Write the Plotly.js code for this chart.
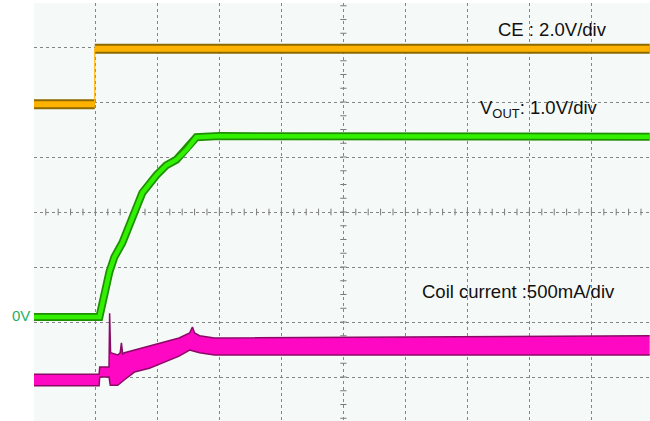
<!DOCTYPE html>
<html>
<head>
<meta charset="utf-8">
<script src="https://cdn.plot.ly/plotly-3.0.1.min.js"></script>
<style>html,body{margin:0;padding:0;background:#fff;}#chart{width:650px;height:421px;}</style>
</head>
<body>
<div id="chart"></div>
<script>
// Time axis in divisions (10 div screen), vertical in divisions (8 div screen, centre = 0)
// CE trace (2.0 V/div)
const ceStepTime = 0.99;
const ceStartTime = 0.0;
const ceEndTime = 9.94;
const ceLowLevel = 1.96;
const ceHighLevel = 2.97;

// VOUT trace (1.0 V/div), 0 V reference at -1.91 div
const voutTime  = [0.0, 1.065, 1.226, 1.306, 1.435, 1.597, 1.758, 1.984, 2.145, 2.306, 2.468, 2.629, 3.0, 9.94];
const voutLevel = [-1.91, -1.91, -1.09, -0.82, -0.56, -0.09, 0.35, 0.67, 0.85, 0.95, 1.13, 1.36, 1.38, 1.37];

// Coil current (500 mA/div) envelope (upper / lower edge of the noisy band)
const coilUpperTime = [0.0, 1.06, 1.07, 1.22, 1.23, 1.245, 1.36, 1.40, 1.42, 1.44, 1.47, 1.63, 1.87, 2.11, 2.35, 2.52, 2.565, 2.60, 2.68, 2.92, 9.94];
const coilUpper     = [-2.95, -2.95, -2.82, -2.82, -1.84, -2.56, -2.60, -2.56, -2.38, -2.58, -2.56, -2.51, -2.44, -2.36, -2.29, -2.20, -2.09, -2.20, -2.25, -2.29, -2.25];
const coilLowerTime = [0.0, 1.06, 1.07, 1.22, 1.24, 1.36, 1.47, 1.63, 1.87, 2.11, 2.35, 2.52, 2.68, 2.92, 9.94];
const coilLower     = [-3.16, -3.16, -3.00, -3.00, -3.15, -3.15, -3.05, -2.91, -2.84, -2.73, -2.62, -2.51, -2.56, -2.60, -2.60];

// Labels (x in divisions; the 0V marker sits left of the screen, given in paper units)
const labelTexts = ['CE : 2.0V/div', 'V<sub>OUT</sub>: 1.0V/div', 'Coil current :500mA/div'];
const labelX = [8.37, 8.15, 7.82];
const labelY = [3.31, 1.87, -1.45];
const zeroLabel = '0V';
const zeroLabelPaperX = -0.021;
const zeroLabelY = -1.89;

const ORANGE = '#ffb300', ORANGE_DK = '#8c6a00';
const GREEN = '#33f000', GREEN_DK = '#1c9000';
const MAG = '#ff08c4', MAG_DK = '#8a0a66';

const traces = [];
function band(x, y, dark, bright, wDark, wBright) {
  traces.push({x: x, y: y, mode: 'lines', line: {color: dark, width: wDark}, hoverinfo: 'skip'});
  traces.push({x: x, y: y, mode: 'lines', line: {color: bright, width: wBright}, hoverinfo: 'skip'});
}
// CE
band([ceStartTime, ceStepTime], [ceLowLevel, ceLowLevel], ORANGE_DK, ORANGE, 10, 6);
band([ceStepTime, ceEndTime], [ceHighLevel, ceHighLevel], ORANGE_DK, ORANGE, 10, 6);
traces.push({x: [ceStepTime, ceStepTime], y: [ceLowLevel, ceHighLevel], mode: 'lines', line: {color: ORANGE, width: 1.2}, hoverinfo: 'skip'});
// VOUT
band(voutTime, voutLevel, GREEN_DK, GREEN, 8, 4.5);
// Coil current
traces.push({x: coilLowerTime, y: coilLower, mode: 'lines', line: {color: MAG_DK, width: 1.5}, hoverinfo: 'skip'});
traces.push({x: coilUpperTime, y: coilUpper, mode: 'lines', fill: 'tonexty', fillcolor: MAG, line: {color: MAG_DK, width: 1.5}, hoverinfo: 'skip'});

// graticule minor ticks on centre lines
const shapes = [];
for (let k = 0; k <= 50; k++) {
  const xv = k * 0.2;
  shapes.push({type: 'line', xref: 'x', yref: 'y', x0: xv, x1: xv, y0: -0.06, y1: 0.06, layer: 'below', line: {color: '#7a7a7a', width: 1}});
}
for (let k = -16; k <= 16; k++) {
  const yv = k * 0.25;
  shapes.push({type: 'line', xref: 'x', yref: 'y', x0: 4.95, x1: 5.05, y0: yv, y1: yv, layer: 'below', line: {color: '#7a7a7a', width: 1}});
}

const FONT = 'Liberation Sans, Arial, sans-serif';
const annotations = labelTexts.map((t, i) => ({
  text: t, x: labelX[i], y: labelY[i], xref: 'x', yref: 'y', showarrow: false,
  xanchor: 'center', yanchor: 'middle',
  font: {family: FONT, size: 18.5, color: '#111111'}
}));
annotations.push({
  text: zeroLabel, x: zeroLabelPaperX, y: zeroLabelY, xref: 'paper', yref: 'y', showarrow: false,
  xanchor: 'center', yanchor: 'middle', font: {family: FONT, size: 15, color: '#1fb060'}
});

const axisCommon = {
  showgrid: true, gridcolor: '#858585', griddash: 'dot', gridwidth: 1,
  zeroline: false, showticklabels: false, ticks: '', showline: false, fixedrange: true, dtick: 1, tick0: 0
};

const layout = {
  width: 650, height: 421,
  margin: {l: 34, r: 0, t: 3, b: 0, pad: 0},
  paper_bgcolor: '#ffffff', plot_bgcolor: '#f5f9f7',
  showlegend: false,
  xaxis: Object.assign({range: [0.01, 9.945]}, axisCommon),
  yaxis: Object.assign({range: [-3.8, 3.8]}, axisCommon),
  shapes: shapes,
  annotations: annotations
};

Plotly.newPlot('chart', traces, layout, {displayModeBar: false, staticPlot: true});
</script>
</body>
</html>
